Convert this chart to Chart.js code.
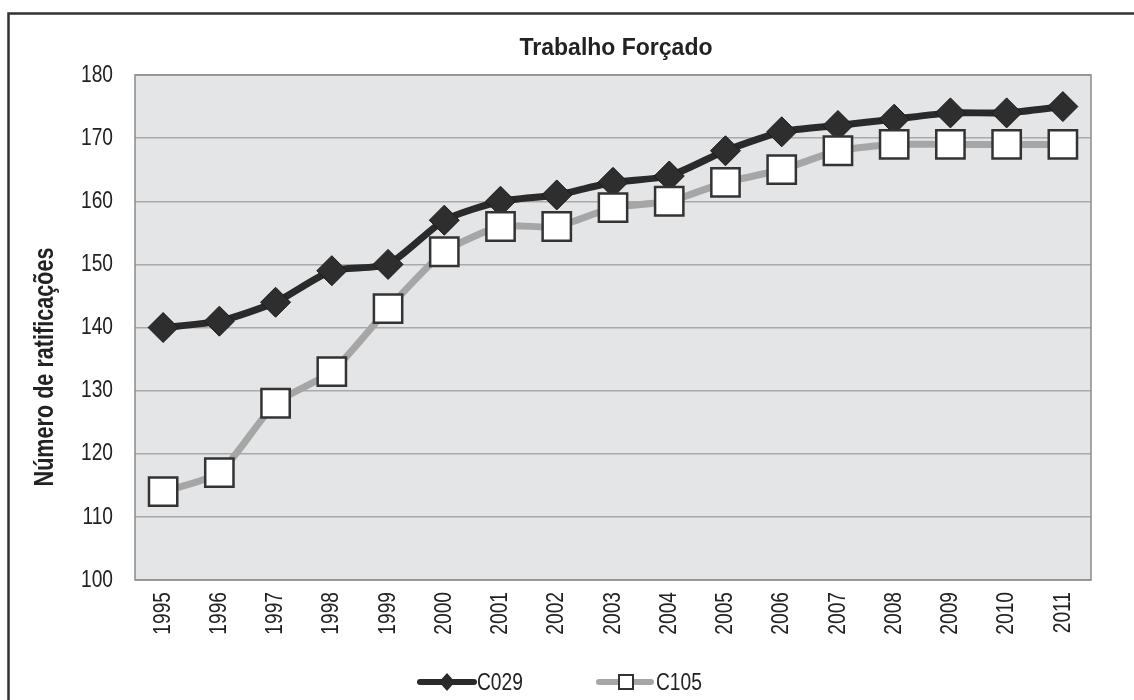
<!DOCTYPE html>
<html>
<head>
<meta charset="utf-8">
<script src="https://cdn.jsdelivr.net/npm/chart.js@4/dist/chart.umd.min.js"></script>
<style>
  body { margin: 0; background: #fff; }
  #wrap { width: 1134px; height: 700px; }
</style>
</head>
<body>
<div id="wrap"><canvas id="lineChart" width="1134" height="700"></canvas></div>
<script>
// dados
const anos = ['1995', '1996', '1997', '1998', '1999', '2000', '2001', '2002', '2003',
    '2004', '2005', '2006', '2007', '2008', '2009', '2010', '2011'];
const c029 = [140, 141, 144, 149, 150, 157, 160, 161, 163, 164, 168, 171, 172, 173, 174, 174, 175];
const c105 = [114, 117, 128, 133, 143, 152, 156, 156, 159, 160, 163, 165, 168, 169, 169, 169, 169];

const titulo = 'Trabalho Forçado';
const tituloY = 'Número de ratificações';

const fonte = "'Liberation Sans', Arial, sans-serif";
const estreito = 0.8; // sem Arial Narrow: comprime o texto na horizontal

// texto comprimido (imita fonte estreita)
function textoEstreito(ctx, txt, x, y, rot, align) {
    ctx.save();
    ctx.translate(x, y);
    if (rot) ctx.rotate(rot);
    ctx.scale(estreito, 1);
    ctx.textAlign = align;
    ctx.textBaseline = 'middle';
    ctx.fillText(txt, 0, 0);
    ctx.restore();
}

// fundo, moldura, rotulos e legenda
const decor = {
    id: 'decor',
    beforeDraw(chart) {
        const { ctx, chartArea: a } = chart;
        ctx.save();
        ctx.fillStyle = '#fff';
        ctx.fillRect(0, 0, chart.width, chart.height);
        ctx.fillStyle = '#e4e5e7';
        ctx.fillRect(a.left, a.top, a.right - a.left, a.bottom - a.top);
        ctx.restore();
    },
    beforeDatasetsDraw(chart) {
        const { ctx, chartArea: a } = chart;
        ctx.save();
        ctx.strokeStyle = '#8a8a8a';
        ctx.lineWidth = 1.5;
        ctx.strokeRect(a.left, a.top, a.right - a.left, a.bottom - a.top);
        ctx.restore();
    },
    afterDraw(chart) {
        const ctx = chart.ctx;
        const xS = chart.scales.x;
        const yS = chart.scales.y;
        ctx.save();
        // moldura externa
        ctx.strokeStyle = '#333';
        ctx.lineWidth = 2.5;
        ctx.beginPath();
        ctx.moveTo(8.5, 700);
        ctx.lineTo(8.5, 13.5);
        ctx.lineTo(1134, 13.5);
        ctx.stroke();

        // titulo
        ctx.fillStyle = '#222';
        ctx.font = 'bold 23px ' + fonte;
        ctx.textAlign = 'center';
        ctx.textBaseline = 'middle';
        ctx.fillText(titulo, 616, 49);

        // titulo do eixo y
        ctx.font = 'bold 27px ' + fonte;
        textoEstreito(ctx, tituloY, 46, 367, -Math.PI / 2, 'center');

        // rotulos dos eixos
        ctx.font = '24px ' + fonte;
        yS.ticks.forEach(t => {
            textoEstreito(ctx, t.label, 113, yS.getPixelForValue(t.value), 0, 'right');
        });
        anos.forEach((ano, i) => {
            textoEstreito(ctx, ano, xS.getPixelForTick(i), 592, -Math.PI / 2, 'right');
        });

        // legenda
        ctx.lineCap = 'round';
        ctx.lineWidth = 6;
        ctx.strokeStyle = '#2a2a2a';
        ctx.beginPath();
        ctx.moveTo(420, 682);
        ctx.lineTo(474, 682);
        ctx.stroke();
        ctx.fillStyle = '#2a2a2a';
        ctx.beginPath();
        ctx.moveTo(447, 673);
        ctx.lineTo(455, 682);
        ctx.lineTo(447, 691);
        ctx.lineTo(439, 682);
        ctx.closePath();
        ctx.fill();

        ctx.strokeStyle = '#a6a6a6';
        ctx.beginPath();
        ctx.moveTo(599, 682);
        ctx.lineTo(651, 682);
        ctx.stroke();
        ctx.lineCap = 'butt';
        ctx.fillStyle = '#fff';
        ctx.fillRect(619, 675, 14, 14);
        ctx.strokeStyle = '#333';
        ctx.lineWidth = 2;
        ctx.strokeRect(619, 675, 14, 14);

        ctx.fillStyle = '#222';
        ctx.font = '24px ' + fonte;
        textoEstreito(ctx, 'C029', 477, 683, 0, 'left');
        textoEstreito(ctx, 'C105', 656, 683, 0, 'left');
        ctx.restore();
    }
};

const lineChart = document.querySelector('#lineChart');

new Chart(lineChart, {
    type: 'line',
    data: {
        labels: anos,
        datasets: [
            {
                label: 'C029',
                data: c029,
                borderColor: '#2a2a2a',
                borderWidth: 7,
                tension: 0.2,
                pointStyle: 'rectRot',
                pointRadius: 15,
                pointBackgroundColor: '#2e2e2e',
                pointBorderColor: '#1a1a1a',
                pointBorderWidth: 1,
                order: 1
            },
            {
                label: 'C105',
                data: c105,
                borderColor: '#a6a6a6',
                borderWidth: 7,
                tension: 0.2,
                pointStyle: 'rect',
                pointRadius: 20,
                pointBackgroundColor: '#ffffff',
                pointBorderColor: '#333333',
                pointBorderWidth: 2.5,
                order: 0
            }
        ]
    },
    options: {
        responsive: false,
        animation: false,
        devicePixelRatio: 1,
        layout: { padding: { left: 0, right: 43, top: 75, bottom: 0 } },
        plugins: {
            legend: { display: false },
            title: { display: false },
            tooltip: { enabled: false }
        },
        scales: {
            x: {
                offset: true,
                afterFit(scale) { scale.height = 120; },
                grid: { display: false, drawTicks: false },
                border: { display: false },
                ticks: { display: false, autoSkip: false }
            },
            y: {
                min: 100,
                max: 180,
                afterFit(scale) { scale.width = 135; },
                grid: { color: '#a9a9a9', lineWidth: 1.5, drawTicks: false },
                border: { display: false },
                ticks: { display: false, stepSize: 10 }
            }
        }
    },
    plugins: [decor]
});
</script>
</body>
</html>
